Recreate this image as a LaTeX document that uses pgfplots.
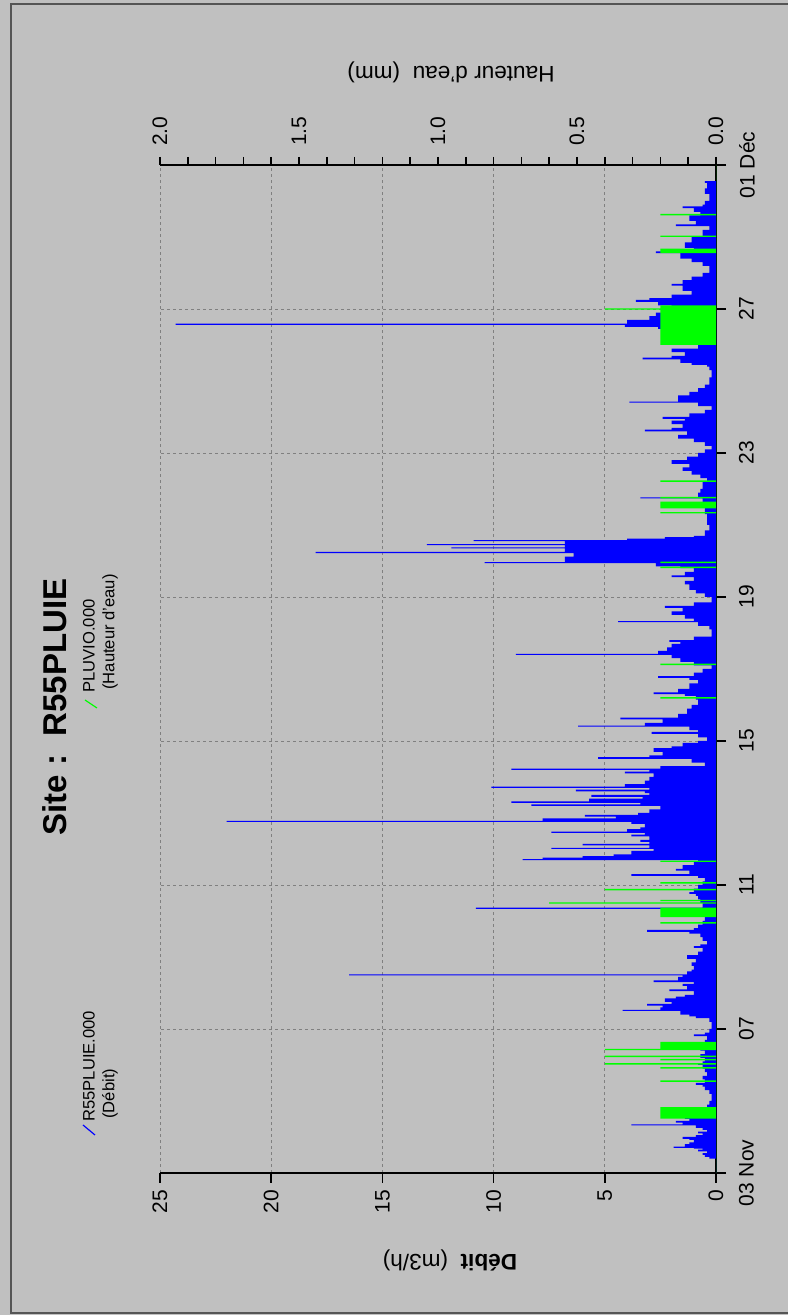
\documentclass[border=0pt]{standalone}
\usepackage{graphicx}
\usepackage{fontspec}
\setmainfont{Liberation Sans}
\usepackage{pgfplots}
\usepackage{pgfplotstable}
\pgfplotsset{compat=1.18}

\definecolor{bggray}{HTML}{C0C0C0}
\definecolor{framegray}{HTML}{555555}
\definecolor{flowblue}{HTML}{0000FF}
\definecolor{raingreen}{HTML}{00FF00}
\definecolor{gridgray}{HTML}{808080}

% day 0 = 03 Nov, flow in m3/h (spikes as thin steps)
\pgfplotstableread{
d v
0 0
0.38 0
0.40 0.3
0.45 0.5
0.50 0.6
0.55 0.4
0.60 0.8
0.65 0.6
0.68 1.0
0.70 1.9
0.73 1.4
0.80 1.2
0.85 1.0
0.92 1.2
0.95 1.5
1.0 0.9
1.05 0.6
1.10 0.8
1.15 0.4
1.20 0.6
1.25 0.9
1.32 3.8
1.35 1.5
1.40 1.8
1.45 1.2
1.50 1.4
1.55 0.9
1.60 1.1
1.65 0.6
1.75 0.4
1.9 0.3
2.0 0.2
2.2 0.3
2.3 0.5
2.4 0.6
2.45 0.9
2.5 0.5
2.6 0.6
2.7 0.4
2.8 0.5
2.9 0.6
3.0 0.8
3.05 0.6
3.1 0.5
3.2 0.7
3.3 0.5
3.4 0.7
3.5 0.9
3.55 0.7
3.6 0.5
3.7 0.4
3.8 1.0
3.85 0.5
3.9 0.3
4.0 0.2
4.2 0.3
4.3 0.9
4.35 1.2
4.4 1.6
4.5 4.2
4.53 2.5
4.6 2.4
4.65 3.1
4.7 2.0
4.75 2.3
4.85 1.8
4.9 1.4
4.95 1.0
5.05 2.1
5.1 1.3
5.2 1.5
5.25 1.0
5.30 2.8
5.35 1.7
5.45 1.5
5.49 16.5
5.52 1.3
5.6 1.1
5.65 1.0
5.75 1.1
5.85 0.9
5.95 1.3
6.05 0.8
6.15 0.6
6.25 1.0
6.3 0.7
6.35 0.4
6.45 0.6
6.55 0.7
6.65 1.2
6.70 3.1
6.75 1.0
6.8 0.8
6.9 0.6
7.0 0.5
7.2 0.4
7.34 10.8
7.37 0.6
7.5 0.7
7.6 0.8
7.7 0.9
7.75 1.2
7.8 1.0
7.9 0.8
8.0 0.6
8.1 0.5
8.2 0.8
8.25 3.8
8.3 1.2
8.4 1.8
8.45 1.5
8.55 1.0
8.65 0.8
8.69 8.7
8.72 7.8
8.76 6.0
8.8 4.6
8.85 3.8
8.95 2.8
9.0 7.4
9.03 3.0
9.1 6.0
9.14 3.0
9.2 3.4
9.25 3.0
9.35 3.8
9.4 3.2
9.45 7.4
9.48 4.0
9.55 3.4
9.6 3.2
9.7 3.8
9.75 22.0
9.78 7.8
9.85 4.5
9.9 5.9
9.95 3.5
10.0 3.0
10.1 2.5
10.2 8.3
10.24 3.4
10.28 9.2
10.32 5.7
10.4 3.3
10.45 5.6
10.5 3.0
10.55 3.2
10.6 6.3
10.65 3.0
10.7 10.1
10.73 4.1
10.8 3.2
10.9 3.0
11.0 2.8
11.1 4.1
11.15 3.0
11.2 9.2
11.23 2.5
11.3 0.5
11.4 1.1
11.5 5.3
11.55 3.0
11.6 2.4
11.7 2.8
11.8 2.0
11.85 1.5
11.95 0.8
12.0 0.4
12.1 0.8
12.2 2.9
12.25 0.8
12.3 1.2
12.4 6.2
12.43 3.2
12.5 2.4
12.6 4.3
12.65 1.7
12.75 1.3
12.9 1.1
13.0 0.8
13.15 0.9
13.25 1.4
13.3 2.8
13.35 1.7
13.45 1.2
13.6 0.8
13.7 1.2
13.75 2.6
13.8 1.0
13.9 0.6
14.0 0.2
14.1 1.0
14.2 1.6
14.3 2.0
14.39 9.0
14.42 2.6
14.5 2.2
14.6 2.0
14.7 1.6
14.75 2.1
14.8 1.0
14.9 0.2
15.1 0.3
15.2 0.8
15.3 4.4
15.33 1.0
15.4 1.4
15.5 2.0
15.6 1.5
15.7 2.3
15.75 1.0
15.85 0.2
16.0 0.5
16.1 0.9
16.2 1.2
16.35 1.4
16.45 1.0
16.55 2.0
16.6 1.4
16.7 1.0
16.8 1.6
16.85 2.7
16.94 10.4
16.97 6.8
17.12 6.4
17.22 18.0
17.25 6.8
17.35 11.9
17.38 6.8
17.44 13.0
17.47 6.8
17.55 10.9
17.58 4.0
17.62 2.3
17.66 1.0
17.7 0.5
17.85 0.3
18.0 0.4
18.3 0.5
18.5 0.4
18.6 0.6
18.74 3.4
18.77 0.8
18.9 0.7
19.0 0.6
19.2 0.4
19.3 0.7
19.4 1.1
19.5 1.5
19.6 1.2
19.7 2.0
19.8 1.3
19.9 0.8
20.0 0.5
20.1 0.2
20.2 0.5
20.3 1.0
20.4 1.7
20.5 1.3
20.6 3.2
20.65 2.0
20.7 1.5
20.8 2.0
20.9 1.4
20.95 2.4
21.0 1.2
21.1 0.5
21.2 0.2
21.3 0.8
21.4 3.9
21.43 1.7
21.55 1.7
21.6 1.2
21.7 0.8
21.8 0.5
21.9 0.3
22.1 0.2
22.3 0.3
22.4 0.4
22.45 1.1
22.5 1.6
22.6 3.3
22.65 2.0
22.7 1.4
22.8 2.0
22.9 0.8
23.0 0.2
23.1 0.5
23.2 0.8
23.3 1.4
23.35 2.0
23.45 2.6
23.5 4.1
23.56 24.3
23.59 4.0
23.7 3.0
23.8 2.7
23.9 2.2
24.0 2.0
24.1 2.6
24.2 3.6
24.25 3.0
24.3 2.0
24.4 1.1
24.5 1.5
24.65 2.0
24.7 1.5
24.8 1.1
24.9 0.6
25.0 0.3
25.2 0.6
25.3 1.1
25.4 1.6
25.55 2.7
25.6 1.0
25.7 1.4
25.85 1.1
26.0 0.6
26.2 0.3
26.3 1.8
26.35 0.9
26.45 1.2
26.6 0.7
26.7 1.0
26.8 1.5
26.85 0.6
26.9 0.5
27.0 0.3
27.2 0.5
27.35 0.4
27.5 0.5
27.55 0
}\debit

% rain gauge, mm
\pgfplotstableread{
d h
0 0
1.51 0.2
1.83 0
2.53 0.2
2.57 0
2.90 0.2
2.94 0
3.01 0.4
3.05 0
3.13 0.2
3.17 0
3.22 0.4
3.26 0
3.41 0.4
3.45 0.2
3.64 0
6.93 0.2
6.97 0
7.11 0.2
7.37 0
7.48 0.6
7.52 0
7.55 0.2
7.59 0
7.85 0.4
7.89 0
8.04 0.2
8.08 0
8.64 0.2
8.68 0
13.18 0.2
13.22 0
14.11 0.2
14.15 0
16.80 0.2
16.84 0
16.94 0.2
16.98 0
18.32 0.2
18.36 0
18.46 0.2
18.65 0
18.74 0.2
18.78 0
19.20 0.2
19.24 0
23.0 0.2
23.98 0.4
24.02 0.2
24.1 0
25.55 0.2
25.68 0
26.0 0.2
26.04 0
26.6 0.2
26.64 0
28 0
}\pluvio

\begin{document}
\rotatebox{90}{%
\begin{tikzpicture}
\useasboundingbox (0,0) rectangle (657.5pt,394pt);
\fill[bggray] (0,0) rectangle (657.5pt,394pt);
\draw[framegray, line width=1pt] (1pt,0) -- (1pt,388.5pt) -- (655.5pt,388.5pt) -- (655.5pt,0);

\begin{axis}[
  at={(71pt,36pt)}, anchor=south west,
  scale only axis, width=504pt, height=278pt,
  xmin=0, xmax=28, ymin=0, ymax=25,
  axis x line*=bottom, axis y line*=left,
  axis line style={black, line width=0.8pt},
  xtick={0,4,...,28},
  xticklabels={03 Nov,07,11,15,19,23,27,01 Déc},
  ytick={0,5,10,15,20,25},
  tick align=outside,
  major tick length=5pt,
  tick style={black, line width=0.8pt},
  xticklabel shift=3pt,
  grid=major,
  grid style={gridgray, line width=0.4pt, dash pattern=on 1.5pt off 1.5pt},
  ticklabel style={font=\fontsize{10.5}{12}\selectfont},
  /pgf/number format/assume math mode=true,
]
\addplot[const plot, fill=flowblue, draw=none] table[x=d, y=v] {\debit} \closedcycle;
\end{axis}

\begin{axis}[
  at={(71pt,36pt)}, anchor=south west,
  scale only axis, width=504pt, height=278pt,
  xmin=0, xmax=28, ymin=0, ymax=2,
  axis y line*=right, axis x line=none,
  axis line style={black, line width=0.8pt},
  ytick={0,0.5,1,1.5,2},
  minor y tick num=4,
  tick align=outside,
  major tick length=4pt, minor tick length=4pt,
  tick style={black, line width=0.8pt},
  yticklabel shift=2pt,
  ticklabel style={font=\fontsize{10.5}{12}\selectfont},
  yticklabel style={/pgf/number format/.cd, fixed, fixed zerofill, precision=1},
  /pgf/number format/assume math mode=true,
]
\addplot[const plot, fill=raingreen, draw=none] table[x=d, y=h] {\pluvio} \closedcycle;
\end{axis}

\node[font=\fontsize{16.5}{20}\selectfont\bfseries] at (304pt,366.5pt) {Site :\ \ R55PLUIE};
\node[rotate=90, font=\fontsize{11.3}{13}\selectfont] at (27.5pt,169pt) {\textbf{Débit}\ \ (m3/h)};
\node[rotate=90, font=\fontsize{11.3}{13}\selectfont] at (621.5pt,168.5pt) {Hauteur d'eau\ \ (mm)};

\draw[flowblue, line width=0.6pt] (90pt,346.5pt) -- (95pt,352.5pt);
\node[anchor=west, inner sep=0pt, font=\fontsize{8.3}{10}\selectfont] at (96.5pt,349.5pt) {R55PLUIE.000};
\node[anchor=west, inner sep=0pt, font=\fontsize{8.3}{10}\selectfont] at (98pt,339pt) {(Débit)};
\draw[raingreen, line width=0.6pt] (303.5pt,345.5pt) -- (307.5pt,351.5pt);
\node[anchor=west, inner sep=0pt, font=\fontsize{8.3}{10}\selectfont] at (311pt,349.5pt) {PLUVIO.000};
\node[anchor=west, inner sep=0pt, font=\fontsize{8.3}{10}\selectfont] at (312.5pt,339pt) {(Hauteur d'eau)};
\end{tikzpicture}}
\end{document}
